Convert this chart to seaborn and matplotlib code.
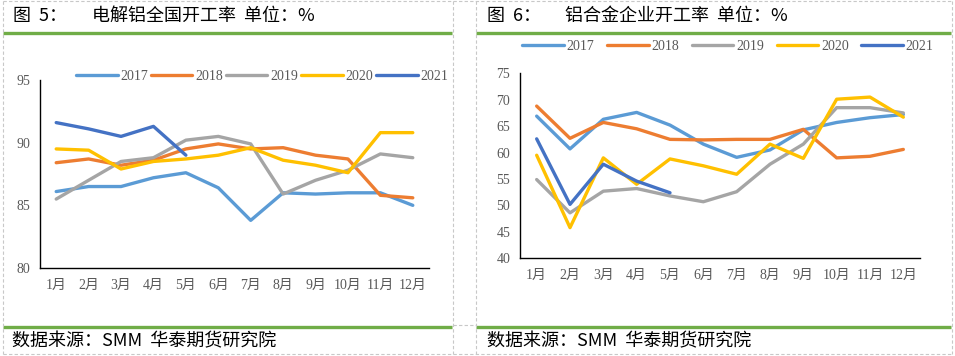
import matplotlib
matplotlib.use("Agg")
import matplotlib.pyplot as plt
from matplotlib.lines import Line2D
import seaborn as sns
import pandas as pd

sns.set_theme(style="white")
plt.rcParams['font.family'] = ['Liberation Serif', 'Noto Sans CJK SC', 'DejaVu Sans']

months = ["1月", "2月", "3月", "4月", "5月", "6月", "7月", "8月", "9月", "10月", "11月", "12月"]
years = ["2017", "2018", "2019", "2020", "2021"]
colors = ["#5B9BD5", "#ED7D31", "#A5A5A5", "#FFC000", "#4472C4"]

# 图5 电解铝全国开工率
al_2017 = [86.1, 86.5, 86.5, 87.2, 87.6, 86.4, 83.8, 86.0, 85.9, 86.0, 86.0, 85.0]
al_2018 = [88.4, 88.7, 88.2, 88.6, 89.5, 89.9, 89.5, 89.6, 89.0, 88.7, 85.8, 85.6]
al_2019 = [85.5, 87.0, 88.5, 88.8, 90.2, 90.5, 89.9, 85.9, 87.0, 87.8, 89.1, 88.8]
al_2020 = [89.5, 89.4, 87.9, 88.5, 88.7, 89.0, 89.6, 88.6, 88.2, 87.6, 90.8, 90.8]
al_2021 = [91.6, 91.1, 90.5, 91.3, 89.0]

# 图6 铝合金企业开工率
alloy_2017 = [66.9, 60.7, 66.3, 67.6, 65.2, 61.6, 59.1, 60.5, 64.3, 65.7, 66.6, 67.2]
alloy_2018 = [68.8, 62.7, 65.7, 64.5, 62.5, 62.4, 62.5, 62.5, 64.4, 59.0, 59.3, 60.6]
alloy_2019 = [54.9, 48.6, 52.7, 53.2, 51.8, 50.7, 52.6, 57.8, 61.6, 68.5, 68.5, 67.5]
alloy_2020 = [59.5, 45.8, 59.0, 54.0, 58.8, 57.5, 55.9, 61.6, 58.9, 70.1, 70.5, 66.7]
alloy_2021 = [62.6, 50.2, 57.8, 54.6, 52.4]


def to_long(series):
    rows = []
    for y, vals in zip(years, series):
        for i, v in enumerate(vals):
            rows.append({"x": i, "month": months[i], "year": y, "value": v})
    return pd.DataFrame(rows)


df1 = to_long([al_2017, al_2018, al_2019, al_2020, al_2021])
df2 = to_long([alloy_2017, alloy_2018, alloy_2019, alloy_2020, alloy_2021])
pal = dict(zip(years, colors))

W, H = 955, 356
fig = plt.figure(figsize=(W / 100, H / 100), dpi=100)


def fx(px):
    return px / W


def fy(py):
    return 1 - py / H


ax1 = fig.add_axes([fx(40), fy(268), fx(429 - 40), (268 - 80) / H])
ax2 = fig.add_axes([fx(520), fy(258.3), fx(920 - 520), (258.3 - 73.3) / H])

tick_color = "#595959"
for ax, df, ylim, yt in [(ax1, df1, (80, 95), [80, 85, 90, 95]),
                         (ax2, df2, (40, 75), list(range(40, 76, 5)))]:
    sns.lineplot(data=df, x="x", y="value", hue="year", palette=pal,
                 hue_order=years, linewidth=2.4, sort=False, legend=False,
                 ax=ax)
    ax.set_xlim(-0.5, 11.5)
    ax.set_ylim(*ylim)
    ax.set_xticks(range(12))
    ax.set_xticklabels(months)
    ax.set_yticks(yt)
    ax.set_xlabel("")
    ax.set_ylabel("")
    for s in ["top", "right"]:
        ax.spines[s].set_visible(False)
    for s in ["left", "bottom"]:
        ax.spines[s].set_color("black")
        ax.spines[s].set_linewidth(1.0)
    ax.tick_params(axis="both", length=0, colors=tick_color, labelsize=10)
    ax.tick_params(axis="x", pad=8)
    ax.tick_params(axis="y", pad=7)
    for lab in ax.get_xticklabels() + ax.get_yticklabels():
        lab.set_family(['Liberation Serif', 'Noto Sans CJK SC'])
    ax.patch.set_alpha(0)

handles = [Line2D([], [], color=c, lw=2.4) for c in colors]
fig.legend(handles, years, loc="center", bbox_to_anchor=(fx(262), fy(76)),
           ncol=5, frameon=False, handlelength=3.0, handletextpad=0.2,
           columnspacing=0.2, prop={'family': 'Liberation Serif', 'size': 10},
           labelcolor=tick_color, borderpad=0, borderaxespad=0)
fig.legend(handles, years, loc="center", bbox_to_anchor=(fx(728), fy(46.7)),
           ncol=5, frameon=False, handlelength=3.0, handletextpad=0.2,
           columnspacing=0.9, prop={'family': 'Liberation Serif', 'size': 10},
           labelcolor=tick_color, borderpad=0, borderaxespad=0)

# green rules
green = "#70AD47"
for x0, x1 in [(3, 452), (476, 951)]:
    for yy in [33, 327.3]:
        fig.add_artist(Line2D([fx(x0), fx(x1)], [fy(yy), fy(yy)], color=green,
                              lw=2.4, solid_capstyle="butt"))

# dashed cell borders
dash = dict(color="#C8C8C8", lw=0.8, ls=(0, (3, 2)))
for xx in [3, 452.5, 475.5, 951.5]:
    fig.add_artist(Line2D([fx(xx), fx(xx)], [fy(0.5), fy(354)], **dash))
for yy in [1, 354]:
    fig.add_artist(Line2D([fx(3), fx(951.5)], [fy(yy), fy(yy)], **dash))
fig.add_artist(Line2D([fx(452.5), fx(475.5)], [fy(325), fy(325)], **dash))

cjk = ['Noto Sans CJK SC', 'DejaVu Sans']
tkw = dict(fontsize=13, color="black", va="center", ha="left", family=cjk)
fig.text(fx(13), fy(16), "图  5：", **tkw)
fig.text(fx(92), fy(16), "电解铝全国开工率  单位：%", **tkw)
fig.text(fx(487), fy(16), "图  6：", **tkw)
fig.text(fx(565), fy(16), "铝合金企业开工率  单位：%", **tkw)
fig.text(fx(12), fy(341.5), "数据来源：SMM  华泰期货研究院", **tkw)
fig.text(fx(487), fy(341.5), "数据来源：SMM  华泰期货研究院", **tkw)

fig.savefig("out.png", dpi=100)
